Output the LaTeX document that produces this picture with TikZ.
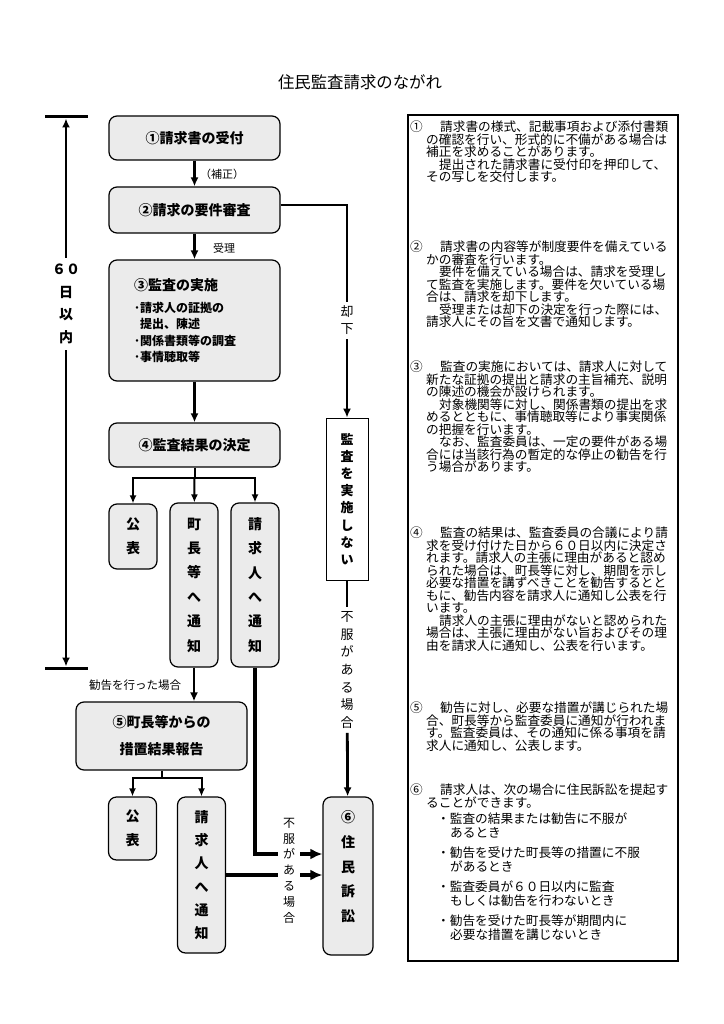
\documentclass[tikz,border=0pt]{standalone}
\usepackage{fontspec}
\setmainfont{Noto Sans CJK JP}
\usetikzlibrary{arrows.meta}
\tikzset{>={Latex[length=9pt,width=8pt]}}
\lineskiplimit=-100pt
\newcommand*{\numb}[1]{\makebox[30pt][l]{#1}}
\newcommand*{\cnt}{\hspace*{16pt}}
\newcommand*{\prg}{\hspace*{29pt}}
\tikzset{
  stage/.style={draw, rounded corners=8pt, fill=gray!16, line width=1.2pt, minimum width=171pt, font=\bfseries\fontsize{14}{14}\selectfont},
  tall/.style={draw, rounded corners=8pt, fill=gray!16, line width=1.2pt, minimum width=48pt, align=center, font=\bfseries\fontsize{14}{24.4}\selectfont},
  vlabel/.style={align=center, inner xsep=2pt, inner ysep=4pt, font=\fontsize{13}{17}\selectfont},
  note/.style={anchor=north west, inner sep=0pt, align=left, font=\fontsize{12.67}{12.5}\selectfont},
  flow/.style={->, line width=2.5pt},
  branch/.style={->, line width=2pt, >={Latex[length=8pt,width=7pt]}},
}

\begin{document}
\begin{tikzpicture}[x=1pt, y=-1pt]
    \useasboundingbox (0,0) rectangle (723,1024);
    \node[font=\fontsize{16.4}{16.4}\selectfont] (title) at (360,82) {住民監査請求のながれ};
    % main flow
    \node[stage, minimum height=44pt] (s1) at (194.5,138) {①請求書の受付};
    \node[stage, minimum height=46pt] (s2) at (194.5,210) {②請求の要件審査};
    \node[stage, minimum height=121pt, text width=121pt, inner xsep=25pt, align=left, font=\bfseries\fontsize{12}{16.5}\selectfont] (s3) at (194.5,320.5)
        {{\fontsize{14}{14}\selectfont ③監査の実施}\\[5.5pt]･請求人の証拠の\\\hspace*{6pt}提出、陳述\\･関係書類等の調査\\･事情聴取等};
    \node[stage, minimum height=44pt] (s4) at (194.5,445) {④監査結果の決定};
    \node[tall, minimum height=65pt] (pub1) at (133,536.5) {公\\表};
    \node[tall, minimum height=164pt] (mayor) at (194,585) {町\\長\\等\\へ\\通\\知};
    \node[tall, minimum height=164pt] (req1) at (255,585) {請\\求\\人\\へ\\通\\知};
    \node[stage, minimum height=68pt, align=center, font=\bfseries\fontsize{14}{27}\selectfont] (s5) at (161.5,736) {⑤町長等からの\\措置結果報告};
    \node[tall, minimum height=63pt] (pub2) at (132.5,828.5) {公\\表};
    \node[tall, minimum height=156pt, font=\bfseries\fontsize{14}{23.3}\selectfont] (req2) at (201.5,875) {請\\求\\人\\へ\\通\\知};
    \node[tall, minimum width=50pt, minimum height=158pt, font=\bfseries\fontsize{14}{24.8}\selectfont] (s6) at (348,876) {⑥\\住\\民\\訴\\訟\\[-5pt]~};
    \node[draw, fill=white, line width=0.8pt, minimum width=42pt, minimum height=162pt, align=center, font=\bfseries\fontsize{13}{17.1}\selectfont] (rej) at (347,499) {監\\査\\を\\実\\施\\し\\な\\い};
    % labels
    \node[font=\fontsize{11}{11}\selectfont] (hosei) at (222,174) {（補正）};
    \node[font=\fontsize{11}{11}\selectfont] (juri) at (224,248) {受理};
    \node[font=\fontsize{11.5}{11.5}\selectfont] (kankoku) at (135,685) {勧告を行った場合};
    \node[vlabel] (kyakka) at (347,320.5) {却\\下};
    \node[vlabel, font=\fontsize{13}{17.7}\selectfont] (fufuku1) at (347,670) {不\\服\\が\\あ\\る\\場\\合};
    \node[vlabel, inner xsep=5pt, font=\fontsize{12}{15.8}\selectfont] (fufuku2) at (289,870.5) {不\\服\\が\\あ\\る\\場\\合};
    \node[align=center, inner ysep=6pt, font=\bfseries\fontsize{14}{22.7}\selectfont] (days) at (66,304) {６０\\日\\以\\内};
    % 60 days
    \coordinate (limtop) at (66,117);
    \coordinate (limbot) at (66,668);
    \draw[line width=3pt] (45,117) -- (88,117);
    \draw[line width=3pt] (45,668) -- (88,668);
    \draw[->, line width=2.2pt, shorten >=1.5pt] (days) -- (limtop);
    \draw[->, line width=2.2pt, shorten >=1.5pt] (days) -- (limbot);
    % connectors
    \draw[flow] (s1) -- (s2);
    \draw[flow] (s2) -- (s3);
    \draw[flow] (s3) -- (s4);
    \draw[line width=2pt] (s4.south) -- ++(0,10) coordinate (b4);
    \draw[branch] (b4) -| (pub1);
    \draw[branch] (b4) -- (mayor);
    \draw[branch] (b4) -| (req1);
    \draw[flow] (mayor.south) -- (mayor.south |- s5.north);
    \draw[line width=2pt] (s5.south) -- ++(0,7) coordinate (b5);
    \draw[branch] (b5) -| (pub2);
    \draw[branch] (b5) -| (req2);
    \draw[line width=2.8pt] ([yshift=5pt]s2.east) -| (kyakka.north);
    \draw[flow, line width=2.8pt] (kyakka) -- (rej);
    \draw[line width=2.8pt] (rej) -- (fufuku1);
    \draw[flow, line width=2.8pt] (fufuku1) -- (s6);
    \coordinate (lowin) at (300,854);
    \draw[line width=3.3pt] (req1.south) |- (lowin -| fufuku2.west);
    \draw[->, line width=3.3pt, >={Latex[length=12pt,width=11pt]}] (lowin -| fufuku2.east) -- (lowin -| s6.west);
    \draw[line width=3.3pt] (req2) -- (req2 -| fufuku2.west);
    \draw[->, line width=3.3pt, >={Latex[length=12pt,width=11pt]}] (req2 -| fufuku2.east) -- (req2 -| s6.west);
    % notes
    \node[draw, line width=2pt, minimum width=270pt, minimum height=846pt] (notes) at (543,538) {};
    \node[note] (n1) at (410,121) {\numb{①}請求書の様式、記載事項および添付書類\\
        \cnt の確認を行い、形式的に不備がある場合は\\
        \cnt 補正を求めることがあります。\\
        \prg 提出された請求書に受付印を押印して、\\
        \cnt その写しを交付します。};
    \node[note] (n2) at (410,240.7) {\numb{②}請求書の内容等が制度要件を備えている\\
        \cnt かの審査を行います。\\
        \prg 要件を備えている場合は、請求を受理し\\
        \cnt て監査を実施します。要件を欠いている場\\
        \cnt 合は、請求を却下します。\\
        \prg 受理または却下の決定を行った際には、\\
        \cnt 請求人にその旨を文書で通知します。};
    \node[note] (n3) at (410,360.7) {\numb{③}監査の実施においては、請求人に対して\\
        \cnt 新たな証拠の提出と請求の主旨補充、説明\\
        \cnt の陳述の機会が設けられます。\\
        \prg 対象機関等に対し、関係書類の提出を求\\
        \cnt めるとともに、事情聴取等により事実関係\\
        \cnt の把握を行います。\\
        \prg なお、監査委員は、一定の要件がある場\\
        \cnt 合には当該行為の暫定的な停止の勧告を行\\
        \cnt う場合があります。};
    \node[note] (n4) at (410,527) {\numb{④}監査の結果は、監査委員の合議により請\\
        \cnt 求を受け付けた日から６０日以内に決定さ\\
        \cnt れます。請求人の主張に理由があると認め\\
        \cnt られた場合は、町長等に対し、期間を示し\\
        \cnt 必要な措置を講ずべきことを勧告するとと\\
        \cnt もに、勧告内容を請求人に通知し公表を行\\
        \cnt います。\\
        \prg 請求人の主張に理由がないと認められた\\
        \cnt 場合は、主張に理由がない旨およびその理\\
        \cnt 由を請求人に通知し、公表を行います。};
    \node[note] (n5) at (410,702) {\numb{⑤}勧告に対し、必要な措置が講じられた場\\
        \cnt 合、町長等から監査委員に通知が行われま\\
        \cnt す。監査委員は、その通知に係る事項を請\\
        \cnt 求人に通知し、公表します。};
    \node[note] (n6) at (410,784) {\numb{⑥}請求人は、次の場合に住民訴訟を提起す\\
        \cnt ることができます。\\[3.5pt]
        \hspace*{27pt}・監査の結果または勧告に不服が\\[1.5pt]
        \hspace*{40pt}あるとき\\[7.5pt]
        \hspace*{27pt}・勧告を受けた町長等の措置に不服\\[1.5pt]
        \hspace*{40pt}があるとき\\[7.5pt]
        \hspace*{27pt}・監査委員が６０日以内に監査\\[1.5pt]
        \hspace*{40pt}もしくは勧告を行わないとき\\[7.5pt]
        \hspace*{27pt}・勧告を受けた町長等が期間内に\\[1.5pt]
        \hspace*{40pt}必要な措置を講じないとき};
\end{tikzpicture}
\end{document}
